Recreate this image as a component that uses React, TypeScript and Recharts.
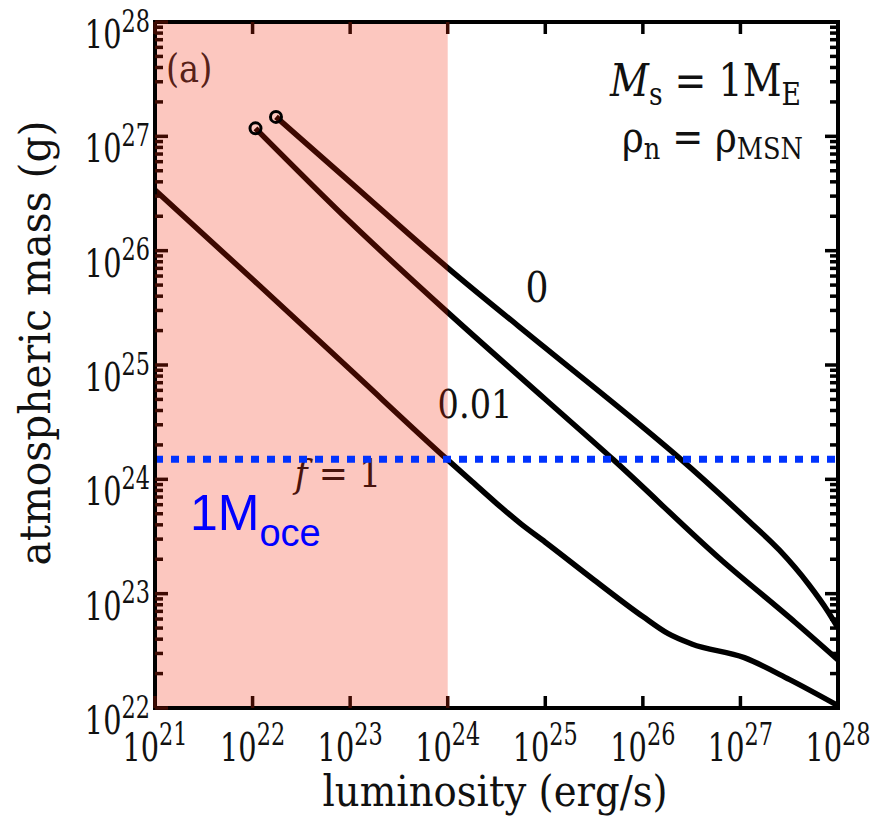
import React from 'react';
import { LineChart, Line, XAxis, YAxis, ReferenceArea, ReferenceLine } from 'recharts';

const SERIF = "'DejaVu Serif', serif";
const SANS = "'Liberation Sans', Arial, Helvetica, sans-serif";

// log10 of luminosity (erg/s) and log10 of atmospheric mass (g)
const lumExpF0 = [22.24, 23.0, 24.0, 25.0, 25.91, 26.37, 27.08, 27.4, 27.7, 27.9, 28.0];
const massExpF0 = [27.17, 26.6, 25.85, 25.15, 24.52, 24.19, 23.64, 23.38, 23.08, 22.84, 22.7];
const lumExpF001 = [22.03, 23.0, 24.0, 25.0, 25.7, 26.81, 27.56, 28.0];
const massExpF001 = [27.07, 26.25, 25.46, 24.7, 24.17, 23.29, 22.75, 22.42];
const lumExpF1 = [21.0, 22.0, 23.0, 24.0, 24.25, 24.5, 24.75, 25.0, 25.5, 26.0, 26.26, 26.5, 27.04, 27.5, 28.0];
const massExpF1 = [26.53, 25.75, 24.96, 24.17, 23.98, 23.79, 23.61, 23.45, 23.12, 22.8, 22.65, 22.56, 22.44, 22.25, 22.02];

const OCEAN_MASS = 1.5e24;
const HABITABLE_LUM_MAX = 1e24;

const xTickExps = [21, 22, 23, 24, 25, 26, 27, 28];
const yTickExps = [22, 23, 24, 25, 26, 27, 28];
const minorMultipliers = [2, 3, 4, 5, 6, 7, 8, 9];

const toPoints = (lx: number[], my: number[]) => lx.map((e, i) => ({ x: Math.pow(10, e), y: Math.pow(10, my[i]) }));
const dataF0 = toPoints(lumExpF0, massExpF0);
const dataF001 = toPoints(lumExpF001, massExpF001);
const dataF1 = toPoints(lumExpF1, massExpF1);

const xTicks = xTickExps.map((e) => Math.pow(10, e));
const yTicks: number[] = [];
yTickExps.forEach((e, i) => {
  yTicks.push(Math.pow(10, e));
  if (i < yTickExps.length - 1) minorMultipliers.forEach((m) => yTicks.push(m * Math.pow(10, e)));
});

const PLOT_LEFT = 155;
const PLOT_RIGHT = 838;
const PLOT_TOP = 22;
const PLOT_BOTTOM = 708;
const PLOT_W = PLOT_RIGHT - PLOT_LEFT;
const PLOT_H = PLOT_BOTTOM - PLOT_TOP;

const TICK_W = 3.5;
const UNDER_PINK = '#3d0a02';

type TProps = {
  x: number;
  y: number;
  sx?: number;
  sy?: number;
  rot?: number;
  size: number;
  anchor?: 'start' | 'middle' | 'end';
  fill?: string;
  children: React.ReactNode;
};
const SerifText = ({ x, y, sx = 1, sy = 1, rot = 0, size, anchor = 'start', fill = '#111', children }: TProps) => (
  <text
    transform={`translate(${x},${y})${rot ? ` rotate(${rot})` : ''} scale(${sx},${sy})`}
    fontFamily={SERIF}
    fontSize={size}
    textAnchor={anchor}
    fill={fill}
  >
    {children}
  </text>
);

const PowerLabel = ({ x, y, exp, anchor }: { x: number; y: number; exp: number; anchor: 'middle' | 'end' }) => (
  <SerifText x={x} y={y} sx={0.8} sy={1.1} size={36} anchor={anchor}>
    <tspan>10</tspan>
    <tspan fontSize={28} dy={-15}>{exp}</tspan>
  </SerifText>
);

const YTick = (props: any) => {
  const { x, y, payload } = props;
  const v = payload.value;
  const e = Math.log10(v);
  const major = Math.abs(e - Math.round(e)) < 1e-6;
  const len = major ? 13 : 8;
  return (
    <g>
      <line x1={x} y1={y} x2={x + len} y2={y} stroke={UNDER_PINK} strokeWidth={TICK_W} />
      <line x1={x + PLOT_W} y1={y} x2={x + PLOT_W - len} y2={y} stroke="#000" strokeWidth={TICK_W} />
      {major && <PowerLabel x={x - 5} y={y + 26} exp={Math.round(e)} anchor="end" />}
    </g>
  );
};

const XTick = (props: any) => {
  const { x, y, payload } = props;
  const e = Math.round(Math.log10(payload.value));
  const c = payload.value <= HABITABLE_LUM_MAX * 1.0001 ? UNDER_PINK : '#000';
  return (
    <g>
      <line x1={x} y1={y} x2={x} y2={y - 12} stroke={c} strokeWidth={TICK_W} />
      <line x1={x} y1={y - PLOT_H} x2={x} y2={y - PLOT_H + 12} stroke={c} strokeWidth={TICK_W} />
      <PowerLabel x={x} y={y + 53} exp={e} anchor="middle" />
    </g>
  );
};

const startCircle = (props: any) => {
  const { cx, cy, index, key } = props;
  if (index !== 0) return <g key={key ?? `d${index}`} />;
  return <circle key={key ?? `d${index}`} cx={cx} cy={cy} r={5.5} fill="none" stroke="#000" strokeWidth={3} />;
};

const OceanLabel = () => (
  <text x={190} y={530} fontFamily={SANS} fill="#0000ff">
    <tspan fontSize={50}>1M</tspan>
    <tspan fontSize={38} dy={16}>oce</tspan>
  </text>
);

export default function App() {
  return (
    <div style={{ margin: '-8px', width: 881, height: 826, overflow: 'hidden', background: '#fff' }}>
      <LineChart
        width={881}
        height={826}
        margin={{ top: PLOT_TOP, right: 881 - PLOT_RIGHT, left: 0, bottom: 826 - PLOT_BOTTOM - 60 }}
      >
        <XAxis
          dataKey="x"
          type="number"
          scale="log"
          domain={[1e21, 1e28]}
          ticks={xTicks}
          interval={0}
          tick={<XTick />}
          tickSize={0}
          tickMargin={0}
          axisLine={false}
          tickLine={false}
          height={60}
          allowDataOverflow
        />
        <YAxis
          type="number"
          scale="log"
          domain={[1e22, 1e28]}
          ticks={yTicks}
          interval={0}
          tick={<YTick />}
          tickSize={0}
          tickMargin={0}
          axisLine={false}
          tickLine={false}
          width={PLOT_LEFT}
          allowDataOverflow
        />
        <Line data={dataF1} dataKey="y" type="monotone" stroke="#000" strokeWidth={5.5} dot={false} activeDot={false} isAnimationActive={false} />
        <Line data={dataF001} dataKey="y" type="monotone" stroke="#000" strokeWidth={5.5} dot={startCircle} activeDot={false} isAnimationActive={false} />
        <Line data={dataF0} dataKey="y" type="monotone" stroke="#000" strokeWidth={5.5} dot={startCircle} activeDot={false} isAnimationActive={false} />

        <SerifText x={166} y={82} sx={0.84} size={40} fill="#222">(a)</SerifText>
        <SerifText x={537} y={302} sx={0.86} size={42} anchor="middle">0</SerifText>
        <SerifText x={475} y={418} sx={0.84} size={40} anchor="middle">0.01</SerifText>
        <SerifText x={338} y={487} sx={0.87} size={40} anchor="middle">
          <tspan fontStyle="italic">f</tspan> = 1
        </SerifText>
        <SerifText x={801} y={96} sx={0.95} sy={1.1} size={40} anchor="end">
          <tspan fontStyle="italic">M</tspan>
          <tspan fontSize={28} dy={8}>s</tspan>
          <tspan dy={-8}> = 1M</tspan>
          <tspan fontSize={28} dy={8}>E</tspan>
        </SerifText>
        <SerifText x={803} y={152} sx={0.95} sy={1.1} size={39} anchor="end">
          <tspan>ρ</tspan>
          <tspan fontSize={27} dy={6}>n</tspan>
          <tspan dy={-6}> = ρ</tspan>
          <tspan fontSize={27} dy={6}>MSN</tspan>
        </SerifText>

        <ReferenceArea
          x1={1e21}
          x2={HABITABLE_LUM_MAX}
          y1={1e22}
          y2={1e28}
          fill="#f52000"
          fillOpacity={0.25}
          stroke="none"
          zIndex={450}
        />
        <ReferenceLine
          y={OCEAN_MASS}
          stroke="#0033ff"
          strokeWidth={7}
          strokeDasharray="8 8"
          zIndex={460}
          label={<OceanLabel />}
        />
        <ReferenceArea x1={1e21} x2={1e28} y1={1e22} y2={1e28} fill="none" stroke="#000" strokeWidth={4} zIndex={470} />

        <SerifText x={495} y={806} sx={0.92} size={42} anchor="middle">luminosity (erg/s)</SerifText>
        <SerifText x={50} y={343} rot={-90} sx={0.97} size={42} anchor="middle">atmospheric mass (g)</SerifText>
        <rect x={259} y={0} width={466} height={8} fill="#617236" />
      </LineChart>
    </div>
  );
}
